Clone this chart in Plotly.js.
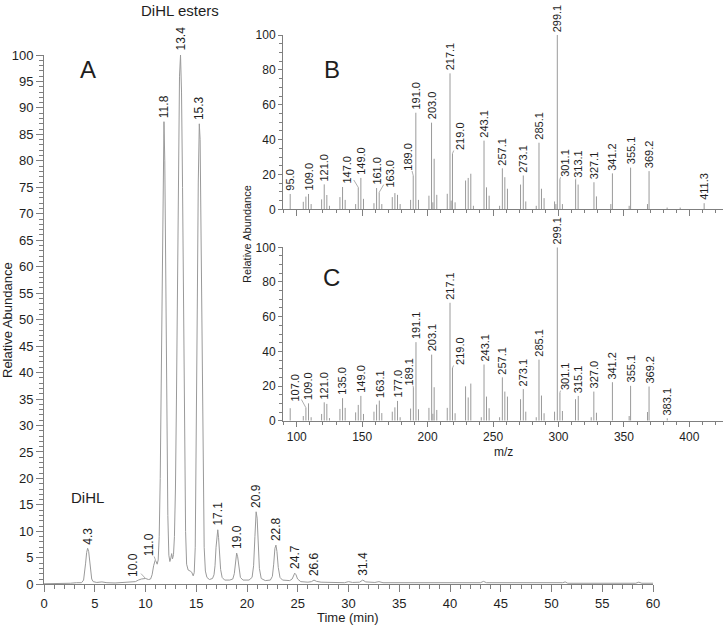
<!DOCTYPE html>
<html><head><meta charset="utf-8">
<script src="https://cdn.plot.ly/plotly-3.0.1.min.js"></script>
<style>html,body{margin:0;padding:0;background:#fff}#chart{width:723px;height:625px}</style>
</head><body><div id="chart"></div>
<script>
// ---- Chromatogram (panel A) ----
const chromTime = [0,2.0,2.6,3.2,3.7,3.9,4.0,4.1,4.2,4.3,4.4,4.5,4.6,4.7,4.85,5.2,5.7,6.2,7.0,7.8,8.5,9.0,9.3,9.6,10.0,10.3,10.5,10.65,10.8,10.95,11.05,11.15,11.25,11.35,11.45,11.55,11.65,11.75,11.82,11.9,12.0,12.1,12.2,12.3,12.4,12.5,12.58,12.66,12.76,12.85,12.95,13.05,13.15,13.25,13.35,13.45,13.55,13.65,13.75,13.85,13.95,14.05,14.2,14.4,14.55,14.7,14.8,14.9,15.0,15.1,15.2,15.3,15.38,15.48,15.58,15.68,15.78,15.9,16.05,16.3,16.6,16.75,16.85,16.95,17.05,17.12,17.2,17.3,17.4,17.55,17.8,18.3,18.6,18.75,18.88,18.98,19.08,19.2,19.35,19.6,20.2,20.5,20.65,20.78,20.9,21.0,21.1,21.22,21.4,21.8,22.3,22.5,22.63,22.75,22.85,22.95,23.08,23.25,23.5,24.2,24.45,24.58,24.7,24.83,24.98,25.3,26.0,26.35,26.6,26.85,27.3,29.6,30.0,30.4,31.1,31.4,31.7,32.6,33.0,33.4,38.0,43.0,43.3,43.6,51.1,51.35,51.6,58.3,58.6,58.9,60];
const chromAbund = [0.1,0.1,0.2,0.3,0.3,0.8,2.0,4.0,6.0,6.8,6.2,4.2,2.2,1.0,0.5,0.35,0.45,0.3,0.25,0.35,0.4,0.5,0.8,1.0,1.1,0.9,1.0,1.8,3.5,4.5,4.3,3.8,4.6,9,20,38,60,82,87.4,80,58,32,13,5.5,4.3,5.0,5.8,4.8,5.6,9,18,35,58,80,96,100,93,75,50,26,10,3.8,2.7,2.5,2.3,1.6,2.2,7,25,52,76,87,84,65,40,18,7,2.5,1.3,0.9,1.1,1.8,3.5,7,10,10.3,8.8,5.5,2.8,1.3,0.8,0.8,1.0,2.0,4.5,5.9,5.2,3.0,1.3,0.8,0.8,1.3,3.5,9,13.7,12.5,7.5,3,1.1,0.7,0.8,1.5,3.8,6.8,7.4,6.2,3.2,1.3,0.8,0.7,1.0,1.7,2.1,1.8,1.0,0.5,0.4,0.5,0.8,0.55,0.4,0.3,0.5,0.35,0.4,0.8,0.45,0.35,0.5,0.3,0.3,0.3,0.55,0.3,0.3,0.45,0.2,0.2,0.4,0.2,0.2];
const peakTime   = [4.32,10.0,11.0,11.82,13.45,15.3,17.12,19.0,20.9,22.85,24.7,26.6,31.4];
const peakHeight = [6.8,1.1,4.5,87.4,100,87,10.3,5.9,13.7,7.4,2.1,0.8,0.8];
const peakLabel  = ['4.3','10.0','11.0','11.8','13.4','15.3','17.1','19.0','20.9','22.8','24.7','26.6','31.4'];

// ---- Mass spectrum B ----
const mzB  = [95.0,105.0,107.0,109.0,111.0,119.0,121.0,123.0,125.0,133.0,135.0,137.0,145.0,147.0,149.0,151.0,159.0,161.0,163.0,165.0,173.0,175.0,177.0,179.0,187.0,189.0,191.0,193.0,201.0,203.0,204.0,205.0,207.0,215.0,217.1,218.0,219.0,221.0,229.0,231.0,233.0,235.0,243.1,245.0,247.0,255.0,257.1,259.0,261.0,271.0,273.1,275.0,283.0,285.1,287.0,289.0,297.0,298.0,299.1,301.1,303.0,313.1,315.0,327.1,329.0,340.0,341.2,354.0,355.1,368.0,369.2,383.0,393.0,411.3];
const intB = [8.8,4.3,7.3,8.8,3,5.7,14.3,8.2,2,7.0,12.8,5.4,3,12.6,18,6,3.5,12.2,9.7,3,7,9.3,8.3,3,5.4,19.4,55.4,5.4,7.8,49.7,4,29,8.3,8.9,78,5,32,4,16.5,18,20.4,2,39.4,12.6,7.8,2,23.5,18.4,11.8,14.2,19.4,4.5,2,38.2,11.8,6.4,4.5,3,100,17.2,3,17,14.2,15.5,7.4,3,20.6,2,23.9,3,21.9,1,1,3.5];
const labelsB = ['95.0','109.0','121.0','147.0','149.0','161.0','163.0','189.0','191.0','203.0','217.1','219.0','243.1','257.1','273.1','285.1','299.1','301.1','313.1','327.1','341.2','355.1','369.2','411.3'];

// ---- Mass spectrum C ----
const mzC  = [95.0,105.0,107.0,109.0,111.0,119.0,121.0,123.0,125.0,133.0,135.0,137.0,145.0,147.0,149.0,151.0,159.0,161.0,163.1,165.0,173.0,175.0,177.0,179.0,187.0,189.1,191.1,193.0,201.0,203.1,204.0,205.0,207.0,215.0,217.1,219.0,221.0,229.0,231.0,233.0,241.0,243.1,245.0,247.0,255.0,257.1,259.0,261.0,271.0,273.1,275.0,283.0,285.1,287.0,289.0,297.0,299.1,301.1,303.0,313.0,315.1,325.0,327.0,329.0,341.2,354.0,355.1,368.0,369.2,383.1];
const intC = [7.2,2.7,7.5,10,2,3.9,10.6,9.7,1.5,6.8,13,7.4,4.8,9.1,14.3,3.9,5.2,9.3,11.6,4.4,5.2,7.7,11.4,2,7,19.3,45.3,6.6,7.4,38.1,4,19.3,6.2,7.4,68,30.4,4.3,19.8,13.4,21.4,2,32.4,13.9,7.2,2,25,16.8,13.9,12.4,18.2,5.2,2,35.2,14.5,4.3,5.2,100,16.2,5.6,12.4,14.3,2,16.8,4.6,22.2,2.7,20.1,5,19.7,1.4];
const labelsC = ['107.0','109.0','121.0','135.0','149.0','163.1','177.0','189.1','191.1','203.1','217.1','219.0','243.1','257.1','273.1','285.1','299.1','301.1','315.1','327.0','341.2','355.1','369.2','383.1'];

// ---- styling / label offsets (pixels) ----
const leadA = {'10.0':[-12,-13], '11.0':[-6,-16]};
const leadB = {'147.0':[-11,-18], '163.0':[11,-19], '189.0':[-5,-19], '219.0':[7.5,-17.5], '301.1':[5,-16.5], '313.1':[3,-15.5]};
const leadC = {'107.0':[-11,-20], '189.1':[-4,-16], '219.0':[7.5,-17], '301.1':[5,-16.5]};

const FONT = 'Arial, "Liberation Sans", sans-serif';
const AX = '#7f7f7f', TXT = '#1e1e1e', LINE = '#9a9a9a';
const W = 723, H = 625;
const px = v => v / W, py = v => 1 - v / H;

function sticks(mz, it) {
  const x = [], y = [];
  mz.forEach((m, i) => { x.push(m, m, null); y.push(0, it[i], null); });
  return {x, y};
}
const sB = sticks(mzB, intB), sC = sticks(mzC, intC);

const traces = [
  {type:'scatter', mode:'lines', x:chromTime, y:chromAbund, xaxis:'x', yaxis:'y',
   line:{color:LINE, width:1}, hoverinfo:'skip'},
  {type:'scatter', mode:'lines', x:sB.x, y:sB.y, xaxis:'x2', yaxis:'y2',
   line:{color:LINE, width:1}, hoverinfo:'skip', connectgaps:false},
  {type:'scatter', mode:'lines', x:sC.x, y:sC.y, xaxis:'x3', yaxis:'y3',
   line:{color:LINE, width:1}, hoverinfo:'skip', connectgaps:false}
];

const ann = [];
function peakAnn(x, y, text, xr, yr, size, lead, shift) {
  const a = {x, y, xref:xr, yref:yr, text, textangle:-90, font:{family:FONT, size, color:TXT}, borderpad:0};
  if (lead) {
    Object.assign(a, {showarrow:true, arrowhead:0, arrowwidth:0.8, arrowcolor:LINE, ax:lead[0], ay:lead[1], standoff:0});
  } else {
    Object.assign(a, {showarrow:false, xanchor:'center', yanchor:'bottom', yshift:shift});
  }
  ann.push(a);
}
peakLabel.forEach((t, i) => peakAnn(peakTime[i], peakHeight[i], t, 'x', 'y', 12, leadA[t], 3));
function specLabels(labels, mz, it, xr, yr, lead) {
  labels.forEach(t => {
    const m = parseFloat(t);
    let best = 0;
    mz.forEach((v, i) => { if (Math.abs(v - m) < Math.abs(mz[best] - m)) best = i; });
    peakAnn(mz[best], it[best], t, xr, yr, 11, lead[t], 2);
  });
}
specLabels(labelsB, mzB, intB, 'x2', 'y2', leadB);
specLabels(labelsC, mzC, intC, 'x3', 'y3', leadC);

function textAnn(text, x, y, size, angle) {
  ann.push({text, x:px(x), y:py(y), xref:'paper', yref:'paper', showarrow:false,
    xanchor:'center', yanchor:'middle', textangle:angle || 0, font:{family:FONT, size, color:TXT}});
}
textAnn('A', 88, 70, 24);
textAnn('B', 332, 70, 24);
textAnn('C', 331, 277, 24);
textAnn('DiHL esters', 180, 10, 15);
textAnn('DiHL', 87, 498, 15);
textAnn('Time (min)', 348, 617, 13);
textAnn('m/z', 503, 452, 12);
textAnn('Relative Abundance', 7, 320, 13, -90);
textAnn('Relative Abundance', 247, 234, 11, -90);

const base = {showline:true, linecolor:AX, linewidth:1, ticks:'outside', tickcolor:AX, tickwidth:1,
  showgrid:false, zeroline:false, fixedrange:true};
const layout = {
  width:W, height:H, margin:{l:0, r:0, t:0, b:0}, showlegend:false,
  paper_bgcolor:'#fff', plot_bgcolor:'rgba(0,0,0,0)', font:{family:FONT, color:TXT},
  xaxis:Object.assign({}, base, {domain:[px(44), px(653)], range:[0,60], anchor:'y', tick0:0, dtick:5, ticklen:7,
    tickfont:{size:13, color:TXT}, minor:{dtick:1, ticklen:4, ticks:'outside', tickcolor:AX, showgrid:false}}),
  yaxis:Object.assign({}, base, {domain:[py(584.3), py(55)], range:[0,100], anchor:'x', tick0:0, dtick:5, ticklen:7,
    tickfont:{size:13, color:TXT}, minor:{dtick:1, ticklen:4, ticks:'outside', tickcolor:AX, showgrid:false}}),
  xaxis2:Object.assign({}, base, {domain:[px(283), 1], range:[89.5,425.7], anchor:'y2', tick0:0, dtick:50, ticklen:6,
    showticklabels:false, minor:{dtick:10, ticklen:3, ticks:'outside', tickcolor:AX, showgrid:false}}),
  yaxis2:Object.assign({}, base, {domain:[py(209.3), py(35)], range:[0,100], anchor:'x2', tick0:0, dtick:20, ticklen:4,
    tickfont:{size:12, color:TXT}, minor:{dtick:5, ticklen:3, ticks:'outside', tickcolor:AX, showgrid:false}}),
  xaxis3:Object.assign({}, base, {domain:[px(283), 1], range:[89.5,425.7], anchor:'y3', tick0:0, dtick:50, ticklen:5,
    tickfont:{size:12, color:TXT}, minor:{dtick:10, ticklen:3, ticks:'outside', tickcolor:AX, showgrid:false}}),
  yaxis3:Object.assign({}, base, {domain:[py(420.7), py(247.3)], range:[0,100], anchor:'x3', tick0:0, dtick:20, ticklen:4,
    tickfont:{size:12, color:TXT}, minor:{dtick:5, ticklen:3, ticks:'outside', tickcolor:AX, showgrid:false}}),
  annotations:ann
};
Plotly.newPlot('chart', traces, layout, {staticPlot:true, displayModeBar:false});
</script></body></html>
